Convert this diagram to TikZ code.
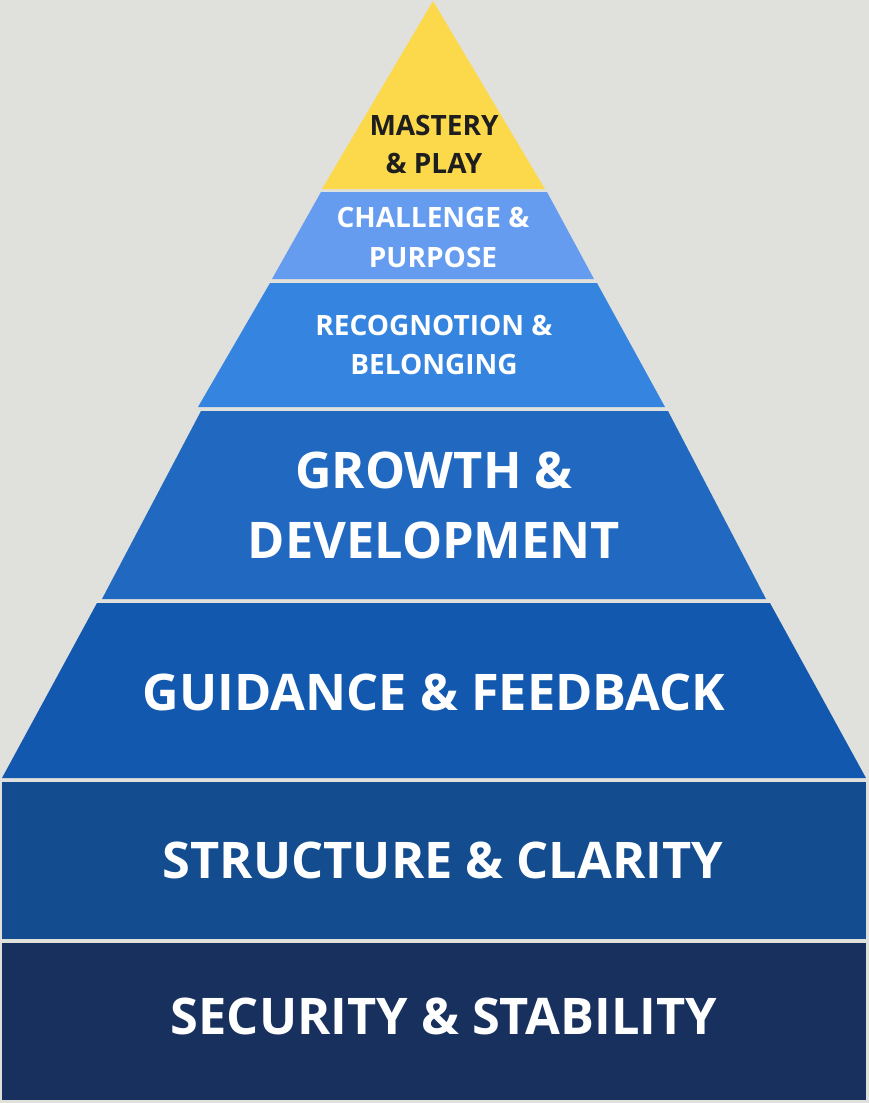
\documentclass[tikz,border=0pt]{standalone}
\usepackage{fontspec}
\setmainfont{Open Sans}
\usepackage{xcolor}
\usepackage{tikz}
\definecolor{bgcol}{HTML}{E0E1DC}
\definecolor{masterycol}{HTML}{FCD94B}
\definecolor{challengecol}{HTML}{669CF0}
\definecolor{recogcol}{HTML}{3585E0}
\definecolor{growthcol}{HTML}{2169C0}
\definecolor{guidancecol}{HTML}{1258AE}
\definecolor{structurecol}{HTML}{134C8F}
\definecolor{securitycol}{HTML}{18305E}
\definecolor{darktext}{HTML}{1E1E1E}
\tikzset{
  layer/.style={draw=none},
  lbl/.style={align=center, text=white, inner sep=0pt, font=\bfseries},
  smalllbl/.style={lbl, font=\bfseries\fontsize{28}{39}\selectfont},
  biglbl/.style={lbl, font=\bfseries\fontsize{50.5}{70}\selectfont}
}

\begin{document}
\begin{tikzpicture}[x=1pt,y=-1pt]
        \fill[bgcol] (0,0) rectangle (869,1103);
        \useasboundingbox (0,0) rectangle (869,1103);
        % pyramid layers, top to bottom
        \fill[layer, masterycol] (433,1) -- (545,189) -- (322,189) -- cycle;
        \fill[layer, challengecol] (321,192) -- (547,192) -- (594,279) -- (272,279) -- cycle;
        \fill[layer, recogcol] (270,283) -- (597,283) -- (665,407) -- (198,407) -- cycle;
        \fill[layer, growthcol] (201,411) -- (668,411) -- (766,599) -- (102,599) -- cycle;
        \fill[layer, guidancecol] (97,603) -- (770,603) -- (866,778) -- (2,778) -- cycle;
        % base blocks
        \fill[layer, structurecol] (2,782) rectangle (866,939);
        \fill[layer, securitycol] (2,943) rectangle (866,1100);
        % labels
        \node[smalllbl, text=darktext, font=\bfseries\fontsize{28}{38}\selectfont] (mastery) at (434,144) {MASTERY\\\& PLAY};
        \node[smalllbl, font=\bfseries\fontsize{28}{40}\selectfont] (challenge) at (433,237) {CHALLENGE \&\\PURPOSE};
        \node[smalllbl, font=\bfseries\fontsize{28}{38.5}\selectfont] (recog) at (434,345) {RECOGNOTION \&\\BELONGING};
        \node[biglbl] (growth) at (434,505) {GROWTH \&\\DEVELOPMENT};
        \node[biglbl] (guidance) at (434,692) {GUIDANCE \& FEEDBACK};
        \node[biglbl] (structure) at (443,860) {STRUCTURE \& CLARITY};
        \node[biglbl] (security) at (444,1016) {SECURITY \& STABILITY};
      \end{tikzpicture}
\end{document}
